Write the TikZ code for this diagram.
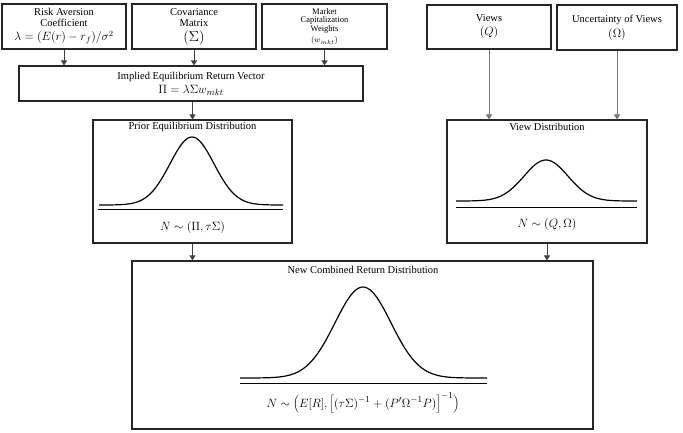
\documentclass[tikz,border=0pt]{standalone}
\usepackage{fontspec}
\setmainfont{Liberation Serif}
\usetikzlibrary{arrows.meta}
\begin{document}
\begin{tikzpicture}[x=1pt,y=-1pt,
 box/.style={draw=black!85, line width=1.1pt, inner sep=0pt, align=center, font=\fontsize{10.5}{11}\selectfont},
 arr/.style={draw=black!75, line width=0.8pt, -{Triangle[length=5pt,width=6pt]}},
 lbl/.style={inner sep=0pt, font=\fontsize{10.5}{12}\selectfont},
 frm/.style={inner sep=0pt, font=\fontsize{13}{15}\selectfont},
 gauss/.style={line width=1.2pt, smooth, samples=90},
 base/.style={line width=1pt}]
\useasboundingbox (0,0) rectangle (683,432);
\fill[white] (0,0) rectangle (683,432);
% top boxes
\node[box, minimum width=124pt, minimum height=45pt] (risk) at (64,26.5)
  {Risk Aversion\\Coefficient\\[3pt]{\fontsize{12}{13}\selectfont$\lambda = \bigl(E(r) - r_f\bigr)\big/\sigma^2$}};
\node[box, minimum width=124pt, minimum height=45pt] (cov) at (194,26.5)
  {Covariance\\Matrix\\[4pt]{\fontsize{14}{15}\selectfont$(\Sigma)$}};
\node[box, minimum width=125pt, minimum height=45pt, font=\fontsize{8.5}{8.5}\selectfont] (mkt) at (324.5,26.5)
  {Market\\Capitalization\\Weights\\[3pt]$(w_{mkt})$};
\node[box, minimum width=124pt, minimum height=44pt] (views) at (489,27)
  {Views\\[3pt]{\fontsize{13}{15}\selectfont$(Q)$}};
\node[box, minimum width=120pt, minimum height=45pt] (unc) at (617,27.5)
  {Uncertainty of Views\\[3pt]{\fontsize{13}{15}\selectfont$(\Omega)$}};
% implied
\node[box, minimum width=344pt, minimum height=35pt] (implied) at (191,83.5)
  {Implied Equilibrium Return Vector\\[3pt]{\fontsize{13}{15}\selectfont$\Pi = \lambda\Sigma w_{mkt}$}};
% distribution boxes
\node[box, minimum width=199pt, minimum height=123pt] (prior) at (192.5,181.5) {};
\node[box, minimum width=200pt, minimum height=123pt] (view) at (547,181.5) {};
\node[box, minimum width=461pt, minimum height=168pt] (comb) at (362.5,345) {};
% titles and formulas
\node[lbl] (priort) at (192.5,127) {Prior Equilibrium Distribution};
\node[frm] (priorf) at (192.5,227) {$N \sim (\Pi, \tau\Sigma)$};
\node[lbl] (viewt) at (547,127) {View Distribution};
\node[frm] (viewf) at (547,224) {$N \sim (Q, \Omega)$};
\node[lbl] (combt) at (363,270) {New Combined Return Distribution};
\node[frm] (combf) at (363,403) {$N \sim \Bigl(E[R], \Bigl[(\tau\Sigma)^{-1} + (P'\Omega^{-1}P)\Bigr]^{-1}\Bigr)$};
% curves
\draw[gauss, domain=99:283] plot (\x, {205-68*exp(-0.5*((\x-192)/22)^2)});
\draw[base] (98,209) -- (283,209);
\draw[gauss, domain=456:637] plot (\x, {201-41*exp(-0.5*((\x-546)/22)^2)});
\draw[base] (456,207) -- (637,207);
\draw[gauss, domain=240:487] plot (\x, {378-91*exp(-0.5*((\x-363)/28)^2)});
\draw[base] (240,383) -- (487,383);
% connectors
\draw[arr] (risk.south) -- (risk.south |- implied.north);
\draw[arr] (cov.south) -- (cov.south |- implied.north);
\draw[arr] (mkt.south) -- (mkt.south |- implied.north);
\draw[arr] (implied.south -| prior.north) -- (prior.north);
\draw[arr, draw=black!55] (views.south) -- (views.south |- view.north);
\draw[arr, draw=black!55] (unc.south) -- (unc.south |- view.north);
\draw[arr] (prior.south) -- (prior.south |- comb.north);
\draw[arr] (view.south) -- (view.south |- comb.north);
\end{tikzpicture}
\end{document}
